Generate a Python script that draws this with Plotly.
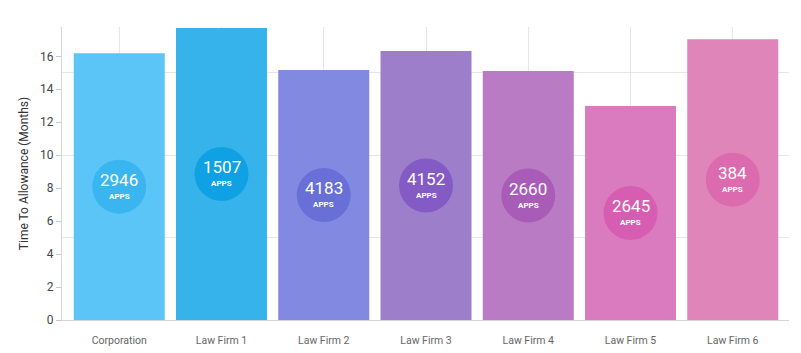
import plotly.graph_objects as go

categories = ["Corporation", "Law Firm 1", "Law Firm 2", "Law Firm 3", "Law Firm 4", "Law Firm 5", "Law Firm 6"]
months = [16.18, 17.72, 15.17, 16.32, 15.11, 12.99, 17.03]
apps = [2946, 1507, 4183, 4152, 2660, 2645, 384]
y_ticks = [0, 2, 4, 6, 8, 10, 12, 14, 16]

bar_colors = ["#5BC5F8", "#36B3EA", "#8189E0", "#9C7ECB", "#BA7BC5", "#DA7BC0", "#E085B9"]
circle_colors = ["#3AB5F0", "#10A0E4", "#6870D8", "#845AC4", "#A85CB8", "#D65DB2", "#DB6BAE"]

fig = go.Figure()
fig.add_trace(go.Bar(
    x=categories, y=months,
    marker=dict(color=bar_colors, line=dict(width=0)),
    hoverinfo="skip",
))
fig.add_trace(go.Scatter(
    x=categories, y=[m / 2 for m in months],
    mode="markers",
    marker=dict(size=54, color=circle_colors, line=dict(width=0)),
    hoverinfo="skip",
))
for c, m, a in zip(categories, months, apps):
    fig.add_annotation(x=c, y=m / 2, text=str(a), showarrow=False, yshift=7,
                       font=dict(family="Roboto", size=17, color="white"))
    fig.add_annotation(x=c, y=m / 2, text="<b>APPS</b>", showarrow=False, yshift=-9.5,
                       font=dict(family="Roboto", size=8, color="white"))

fig.update_layout(
    width=801, height=353,
    margin=dict(l=62, r=12, t=27, b=33),
    paper_bgcolor="white", plot_bgcolor="white",
    showlegend=False,
    bargap=0.11,
    font=dict(family="Roboto", color="#444"),
)
fig.update_xaxes(
    range=[-0.56, 6.55],
    automargin=False,
    showgrid=True, gridcolor="#E6E6E6", gridwidth=1,
    showline=True, linecolor="#D6D6D6", linewidth=1,
    ticks="outside", ticklen=10, tickcolor="rgba(0,0,0,0)",
    tickfont=dict(family="Roboto", size=10.5, color="#666"),
    zeroline=False,
)
fig.update_yaxes(
    range=[0, 17.78],
    automargin=False,
    tickvals=y_ticks,
    showgrid=False,
    minor=dict(tickvals=[5, 10, 15], showgrid=True, gridcolor="#E6E6E6", gridwidth=1, ticklen=0),
    showline=True, linecolor="#D6D6D6", linewidth=1,
    ticks="outside", ticklen=5, tickcolor="#C8C8C8",
    tickfont=dict(family="Roboto", size=12, color="#444"),
    title=dict(text="Time To Allowance (Months)", font=dict(family="Roboto", size=12, color="#333"), standoff=8),
    zeroline=False,
)

fig.write_html("out.html")
